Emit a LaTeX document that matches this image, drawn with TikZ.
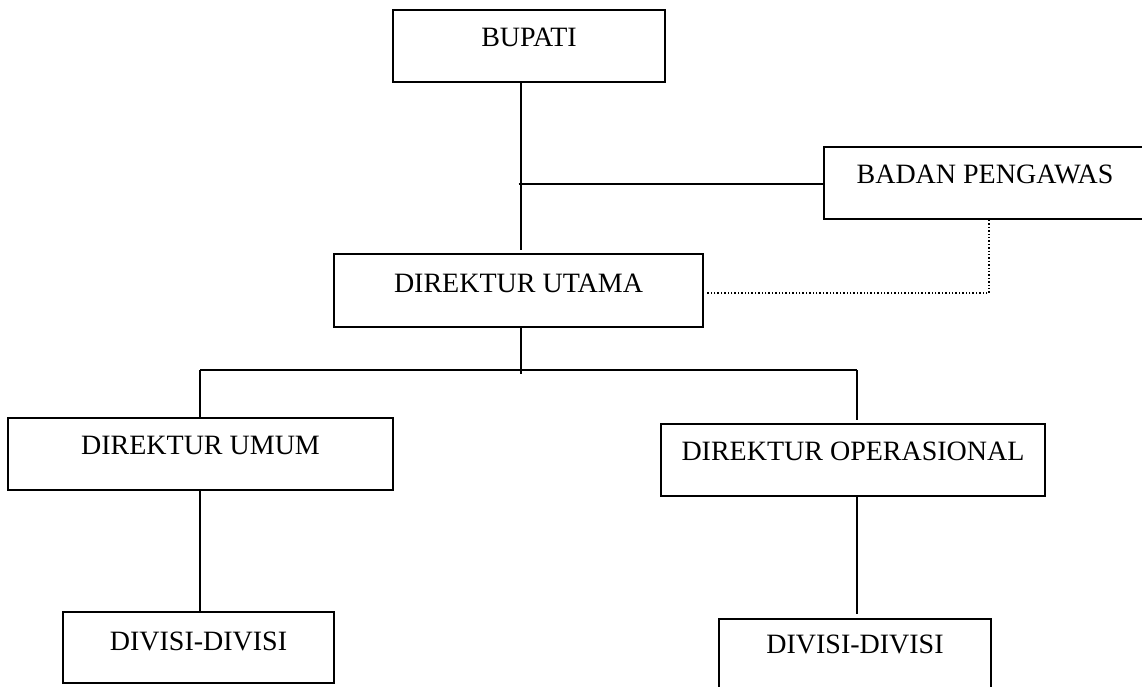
\documentclass[tikz,border=0pt]{standalone}
\usepackage{fontspec}
\setmainfont{Liberation Serif}
\begin{document}
\begin{tikzpicture}[x=1pt,y=-1pt,
  orgbox/.style={draw, line width=1.8pt, rectangle, inner xsep=0pt, inner ysep=0pt,
    text height=36pt, text depth=36pt, anchor=base,
    font=\fontsize{28}{30}\selectfont},
  link/.style={line width=1.8pt},
  dotlink/.style={line width=1.4pt, dotted}]
\useasboundingbox (0,0) rectangle (1142,686);
\clip (0,0) rectangle (1142,686);
\fill[white] (0,0) rectangle (1142,686);
% boxes
\node[orgbox, minimum width=272pt] (bupati) at (529,46) {BUPATI};
\node[orgbox, minimum width=334pt] (badan) at (991,183) {\makebox[0pt]{\hspace*{-12pt}BADAN PENGAWAS}};
\node[orgbox, minimum width=369pt, text height=38pt, text depth=35pt] (du) at (518.5,292) {DIREKTUR UTAMA};
\node[orgbox, minimum width=385pt] (dumum) at (200.5,454) {DIREKTUR UMUM};
\node[orgbox, minimum width=384pt] (dop) at (853,460) {DIREKTUR OPERASIONAL};
\node[orgbox, minimum width=271pt, text height=38pt, text depth=33pt] (div1) at (198.5,650) {DIVISI-DIVISI};
\node[orgbox, minimum width=272pt, text height=34pt, text depth=50pt] (div2) at (855,653) {DIVISI-DIVISI};
% junction coordinates
\coordinate (trunk) at (520.7,183.7);
\coordinate (trunkend) at (520.7,250);
\coordinate (dotx) at (989,293);
\coordinate (bar) at (520.7,370);
\coordinate (barend) at (520.7,374);
\coordinate (barL) at (200,370);
\coordinate (barR) at (857,370);
\coordinate (dopin) at (857,420);
\coordinate (div2in) at (857,614);
% connectors
\draw[link] (bupati.south -| trunk) -- (trunkend);
\draw[link] ([xshift=-2pt]trunk) -- (badan.west |- trunk);
\draw[dotlink] (badan.south -| dotx) -- (dotx) -- ([xshift=3pt]du.east |- dotx);
\draw[link] (du.south -| bar) -- (barend);
\draw[link] (barL) -- (barR);
\draw[link] (barL) -- (dumum.north -| barL);
\draw[link] (barR) -- (dopin);
\draw[link] (dumum.south -| barL) -- (div1.north -| barL);
\draw[link] (dop.south -| barR) -- (div2in);
\end{tikzpicture}
\end{document}
